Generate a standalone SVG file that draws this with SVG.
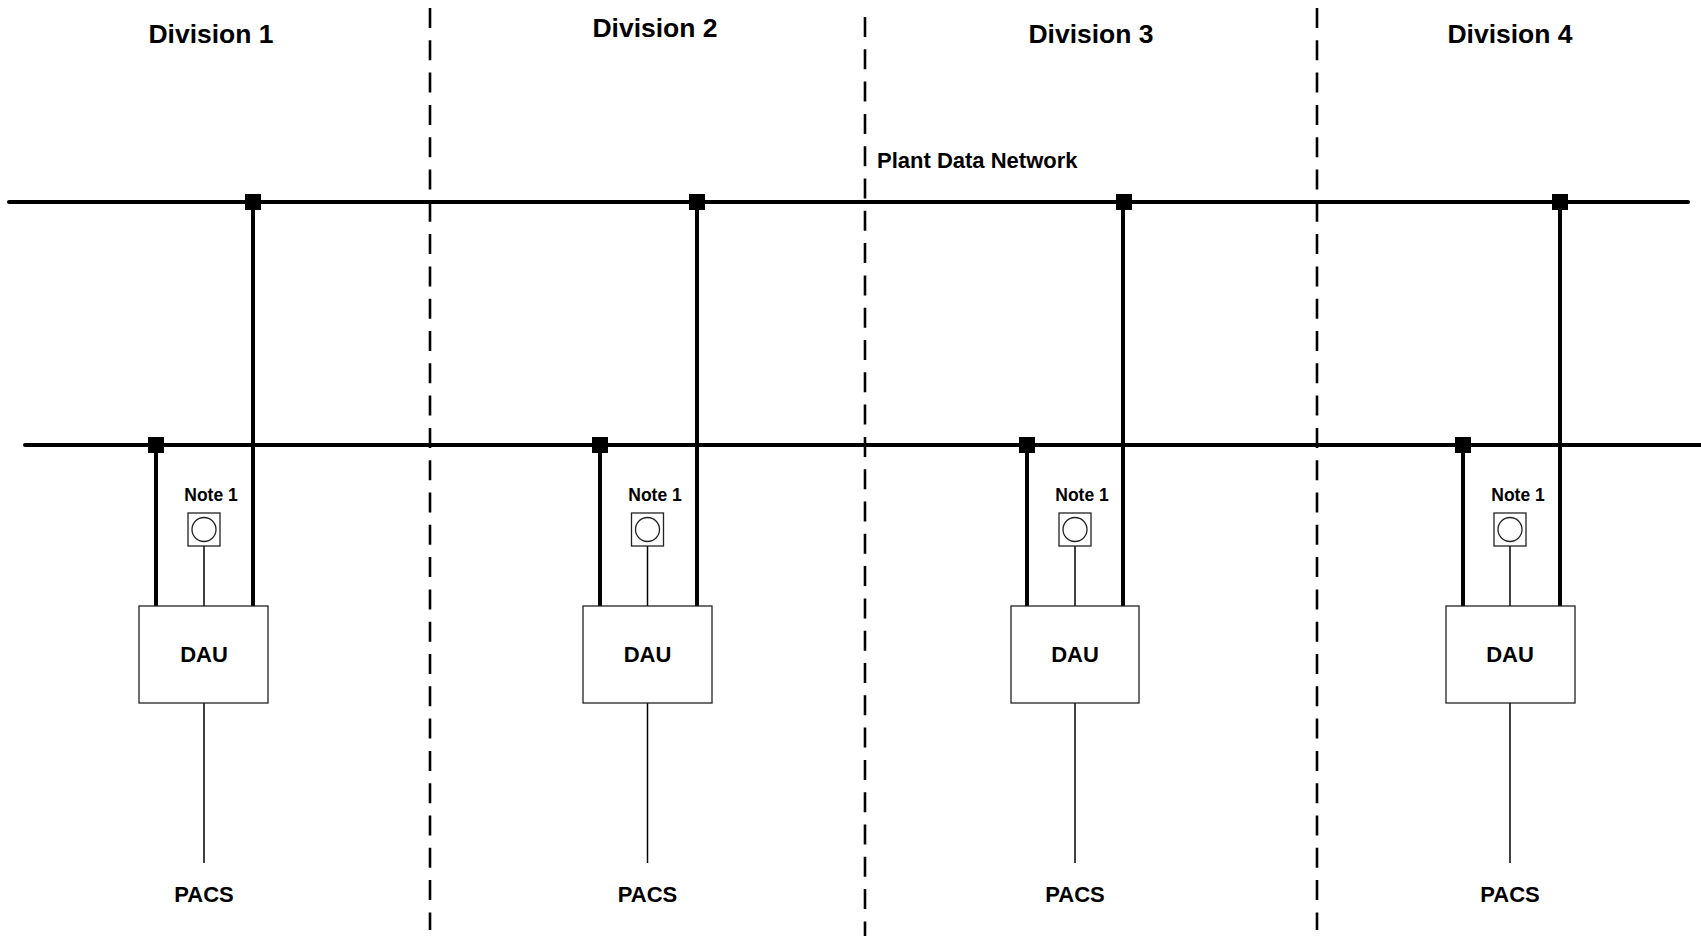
<svg xmlns="http://www.w3.org/2000/svg" width="1701" height="936" viewBox="0 0 1701 936">
<style>
.bg{fill:#ffffff}
.bus{stroke:#000;stroke-width:4;fill:none;stroke-linecap:round}
.thick{stroke:#000;stroke-width:4;fill:none}
.thin{stroke:#000;stroke-width:1.5;fill:none}
.box{fill:#fff;stroke:#222;stroke-width:1.3}
.div{stroke:#000;stroke-width:2.6;stroke-dasharray:20 12.3;fill:none}
.jn{fill:#000}
text{font-family:"Liberation Sans",Arial,sans-serif;font-weight:bold;fill:#000}
.title{font-size:26.5px;text-anchor:middle}
.lbl{font-size:22px;text-anchor:middle}
.note{font-size:17.5px;text-anchor:middle}
</style>
<rect class="bg" x="0" y="0" width="1701" height="936"/>
<g id="dividers">
<line class="div" x1="430" y1="8" x2="430" y2="930"/>
<line class="div" x1="865" y1="17" x2="865" y2="936"/>
<line class="div" x1="1317" y1="8" x2="1317" y2="930"/>
</g>
<g id="titles">
<text class="title" x="211" y="43">Division 1</text>
<text class="title" x="655" y="37">Division 2</text>
<text class="title" x="1091" y="43">Division 3</text>
<text class="title" x="1510" y="43">Division 4</text>
<text x="877" y="168" style="font-size:22px">Plant Data Network</text>
</g>
<g id="connectors">
<line class="bus" x1="9" y1="202" x2="1688" y2="202"/>
<line class="bus" x1="25" y1="445" x2="1703" y2="445"/>
<line class="thick" x1="156" y1="445" x2="156" y2="606"/>
<line class="thick" x1="253" y1="202" x2="253" y2="606"/>
<line class="thin" x1="204" y1="546" x2="204" y2="606"/>
<line class="thin" x1="204" y1="703" x2="204" y2="863"/>
<line class="thick" x1="600" y1="445" x2="600" y2="606"/>
<line class="thick" x1="697" y1="202" x2="697" y2="606"/>
<line class="thin" x1="647.5" y1="546" x2="647.5" y2="606"/>
<line class="thin" x1="647.5" y1="703" x2="647.5" y2="863"/>
<line class="thick" x1="1027" y1="445" x2="1027" y2="606"/>
<line class="thick" x1="1123" y1="202" x2="1123" y2="606"/>
<line class="thin" x1="1075" y1="546" x2="1075" y2="606"/>
<line class="thin" x1="1075" y1="703" x2="1075" y2="863"/>
<line class="thick" x1="1463" y1="445" x2="1463" y2="606"/>
<line class="thick" x1="1560" y1="202" x2="1560" y2="606"/>
<line class="thin" x1="1510" y1="546" x2="1510" y2="606"/>
<line class="thin" x1="1510" y1="703" x2="1510" y2="863"/>
<rect class="jn" x="245" y="194" width="16" height="16"/>
<rect class="jn" x="689" y="194" width="16" height="16"/>
<rect class="jn" x="1116" y="194" width="16" height="16"/>
<rect class="jn" x="1552" y="194" width="16" height="16"/>
<rect class="jn" x="148" y="437" width="16" height="16"/>
<rect class="jn" x="592" y="437" width="16" height="16"/>
<rect class="jn" x="1019" y="437" width="16" height="16"/>
<rect class="jn" x="1455" y="437" width="16" height="16"/>
</g>
<g id="div1">
<text class="note" x="211" y="501">Note 1</text>
<rect class="box" x="188" y="513" width="32" height="33"/>
<circle class="box" cx="204" cy="529.5" r="12"/>
<rect class="box" x="139" y="606" width="129" height="97"/>
<text class="lbl" x="204" y="662">DAU</text>
<text class="lbl" x="204" y="902">PACS</text>
</g>
<g id="div2">
<text class="note" x="655" y="501">Note 1</text>
<rect class="box" x="631.5" y="513" width="32" height="33"/>
<circle class="box" cx="647.5" cy="529.5" r="12"/>
<rect class="box" x="583" y="606" width="129" height="97"/>
<text class="lbl" x="647.5" y="662">DAU</text>
<text class="lbl" x="647.5" y="902">PACS</text>
</g>
<g id="div3">
<text class="note" x="1082" y="501">Note 1</text>
<rect class="box" x="1059" y="513" width="32" height="33"/>
<circle class="box" cx="1075" cy="529.5" r="12"/>
<rect class="box" x="1011" y="606" width="128" height="97"/>
<text class="lbl" x="1075" y="662">DAU</text>
<text class="lbl" x="1075" y="902">PACS</text>
</g>
<g id="div4">
<text class="note" x="1518" y="501">Note 1</text>
<rect class="box" x="1494" y="513" width="32" height="33"/>
<circle class="box" cx="1510" cy="529.5" r="12"/>
<rect class="box" x="1446" y="606" width="129" height="97"/>
<text class="lbl" x="1510" y="662">DAU</text>
<text class="lbl" x="1510" y="902">PACS</text>
</g>
</svg>
